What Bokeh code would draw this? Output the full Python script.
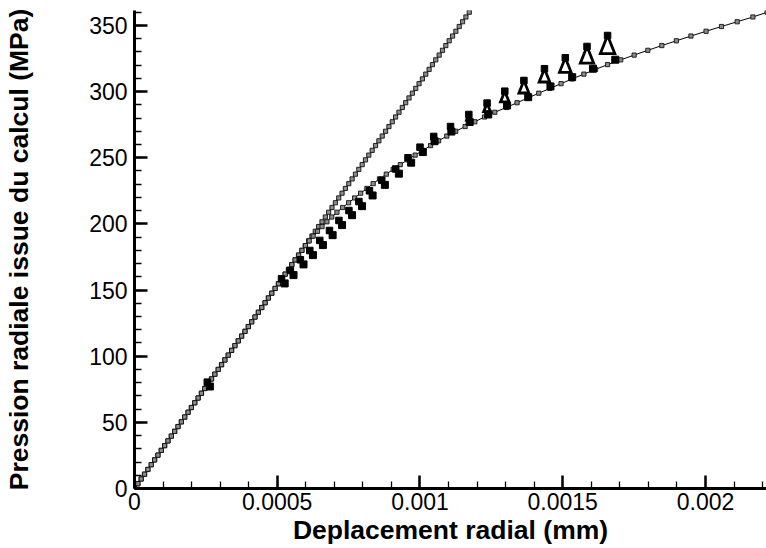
from bokeh.plotting import figure
from bokeh.models import Range1d, SingleIntervalTicker, CustomJSTickFormatter
from bokeh.embed import file_html
from bokeh.resources import INLINE

# ---------------- data (displacements in units of 1e-5 mm, pressures in MPa) ----------------
UNIT = 1e-5

pressure_steps = [0, 3.6, 7.2, 10.8, 14.4, 18, 21.6, 25.2, 28.8, 32.4, 36, 39.6, 43.2, 46.8, 50.4,
                  54, 57.6, 61.2, 64.8, 68.4, 72, 75.6, 79.2, 82.8, 86.4, 90, 93.6, 97.2, 100.8,
                  104.4, 108, 111.6, 115.2, 118.8, 122.4, 126, 129.6, 133.2, 136.8, 140.4, 144,
                  147.6, 151.2, 154.8, 158.4, 162, 165.6, 169.2, 172.8, 176.4, 180, 183.6, 187.2,
                  190.8, 194.4, 198, 201.6, 205.2, 208.8, 212.4, 216, 219.6, 223.2, 226.8, 230.4,
                  234, 237.6, 241.2, 244.8, 248.4, 252, 255.6, 259.2, 262.8, 266.4, 270, 273.6,
                  277.2, 280.8, 284.4, 288, 291.6, 295.2, 298.8, 302.4, 306, 309.6, 313.2, 316.8,
                  320.4, 324, 327.6, 331.2, 334.8, 338.4, 342, 345.6, 349.2, 352.8, 356.4, 360]

# elastic computation (straight line)
disp_elastic = [0.00, 1.17, 2.35, 3.52, 4.69, 5.86, 7.04, 8.21, 9.38, 10.55, 11.73, 12.90, 14.07,
                15.24, 16.42, 17.59, 18.76, 19.93, 21.11, 22.28, 23.45, 24.62, 25.80, 26.97, 28.14,
                29.32, 30.49, 31.66, 32.83, 34.01, 35.18, 36.35, 37.52, 38.70, 39.87, 41.04, 42.21,
                43.39, 44.56, 45.73, 46.90, 48.08, 49.25, 50.42, 51.59, 52.77, 53.94, 55.11, 56.28,
                57.46, 58.63, 59.80, 60.98, 62.15, 63.32, 64.49, 65.67, 66.84, 68.01, 69.18, 70.36,
                71.53, 72.70, 73.87, 75.05, 76.22, 77.39, 78.56, 79.74, 80.91, 82.08, 83.25, 84.43,
                85.60, 86.77, 87.95, 89.12, 90.29, 91.46, 92.64, 93.81, 94.98, 96.15, 97.33, 98.50,
                99.67, 100.84, 102.02, 103.19, 104.36, 105.53, 106.71, 107.88, 109.05, 110.22,
                111.40, 112.57, 113.74, 114.91, 116.09, 117.26]

# elasto-plastic computation (same as elastic up to 180 MPa)
disp_plastic_tail = [59.9, 61.2, 62.6, 64.1, 65.7, 67.4, 69.1, 70.9, 72.9, 75.0, 77.1, 79.2, 81.4,
                     83.6, 85.8, 88.2, 90.6, 93.1, 95.7, 98.3, 101.0, 103.7, 106.5, 109.4, 112.5,
                     115.8, 119.2, 122.6, 126.2, 130.3, 134.0, 137.8, 141.6, 145.5, 149.4, 153.3,
                     157.4, 161.5, 165.7, 170.3, 175.0, 179.8, 184.7, 189.8, 194.9, 200.2, 205.6,
                     211.1, 216.6, 221.6]

# measured points: upper and lower reading of each load step
meas_disp_up = [25.5, 51.5, 54.6, 58.1, 61.4, 64.9, 68.3, 71.6, 75.1, 78.6, 82.3, 86.6, 91.5, 95.8,
                100.0, 104.8, 110.7, 117.1, 123.5, 129.7, 136.4, 143.6, 150.9, 158.5, 165.7]
meas_p_up = [80.4, 158.5, 164.8, 172.9, 179.9, 187.5, 195.0, 202.6, 210.1, 216.9, 225.0, 233.0,
             241.5, 250.0, 258.0, 266.1, 273.6, 282.7, 291.3, 300.3, 308.4, 317.3, 325.6, 334.1, 342.4]
meas_disp_low = [26.4, 52.6, 55.7, 59.2, 62.5, 66.0, 69.4, 72.7, 76.2, 79.7, 83.4, 87.7, 92.6, 96.9,
                 101.0, 105.1, 111.0, 117.4, 123.9, 130.5, 137.9, 145.7, 153.3, 160.6, 168.4]
meas_p_low = [77.1, 155.0, 161.3, 169.4, 176.4, 184.0, 191.5, 199.1, 206.6, 213.4, 221.5, 229.5,
              238.0, 246.3, 254.3, 262.5, 269.8, 277.0, 282.7, 289.5, 295.8, 303.9, 310.9, 317.3, 324.1]

x_ticks_interval = 0.0005
y_ticks_interval = 50

# ---------------- figure ----------------
X_MAX = 0.0022137
Y_MAX = 361.3
W, H = 766, 548
MB_L, MB_R, MB_T, MB_B = 134, 0, 10, 60
FRAME_W = W - MB_L - MB_R
FRAME_H = H - MB_T - MB_B

p = figure(width=W, height=H, output_backend="svg", toolbar_location=None,
           x_range=Range1d(0, X_MAX), y_range=Range1d(0, Y_MAX),
           min_border_left=MB_L, min_border_right=MB_R, min_border_top=MB_T, min_border_bottom=MB_B)
p.outline_line_color = None
p.grid.visible = False
p.background_fill_color = "white"
p.border_fill_color = "white"

x_el = [v * UNIT for v in disp_elastic]
disp_plastic = disp_elastic[:51] + disp_plastic_tail
x_pl = [v * UNIT for v in disp_plastic]

for xs in (x_el, x_pl):
    p.line(xs, pressure_steps, line_color="black", line_width=1)
    p.scatter(xs, pressure_steps, marker="square", size=4.2, fill_color="#8c8c8c",
              line_color="#111111", line_width=0.9)

# measured data
sx = FRAME_W / X_MAX
sy = FRAME_H / Y_MAX
tri_xs, tri_ys = [], []
for xu, pu, pl in zip(meas_disp_up, meas_p_up, meas_p_low):
    h = pu - pl
    if h < 5:
        continue
    pb = pl + 0.25 * h
    hw_px = 0.40 * (pu - pb) * sy
    hw = hw_px / sx
    xc = xu * UNIT
    tri_xs.append([xc, xc - hw, xc + hw])
    tri_ys.append([pu, pb, pb])
p.patches(tri_xs, tri_ys, fill_color=None, line_color="black", line_width=2.8, line_join="miter")

p.scatter([v * UNIT for v in meas_disp_low], meas_p_low, marker="square", size=7,
          fill_color="black", line_color="black")
p.scatter([v * UNIT for v in meas_disp_up], meas_p_up, marker="square", size=6.5,
          fill_color="black", line_color="black")

# ---------------- axes ----------------
p.xaxis.ticker = SingleIntervalTicker(interval=x_ticks_interval, num_minor_ticks=5)
p.yaxis.ticker = SingleIntervalTicker(interval=y_ticks_interval, num_minor_ticks=5)
p.xaxis.formatter = CustomJSTickFormatter(code="return String(Number(tick.toFixed(6)));")
p.yaxis.formatter = CustomJSTickFormatter(code="return String(Math.round(tick));")

for ax in (p.xaxis[0], p.yaxis[0]):
    ax.axis_line_width = 3
    ax.axis_line_color = "black"
    ax.major_tick_in = 13
    ax.major_tick_out = 0
    ax.minor_tick_in = 7
    ax.minor_tick_out = 0
    ax.major_tick_line_width = 2.5
    ax.minor_tick_line_width = 1.3
    ax.major_label_text_font = "Liberation Sans"
    ax.major_label_text_font_size = "23px"
    ax.major_label_text_color = "black"
    ax.axis_label_text_font = "Liberation Sans"
    ax.axis_label_text_font_style = "bold"
    ax.axis_label_text_font_size = "26.5px"
    ax.axis_label_text_color = "black"

p.xaxis.axis_label = "Deplacement radial (mm)"
p.yaxis.axis_label = "Pression radiale issue du calcul (MPa)"
p.xaxis.major_label_standoff = 4
p.yaxis.major_label_standoff = 7
p.xaxis.axis_label_standoff = 2
p.yaxis.axis_label_standoff = 52

open("out.html", "w").write(file_html(p, INLINE))
